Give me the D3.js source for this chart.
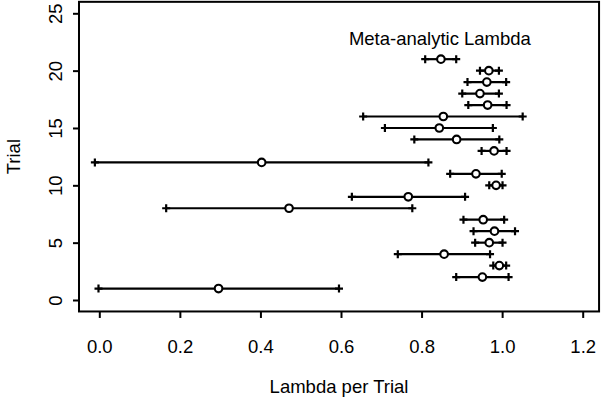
<!DOCTYPE html>
<html>
<head>
<meta charset="utf-8">
<script src="https://cdn.jsdelivr.net/npm/d3@7"></script>
<style>
  html, body { margin: 0; padding: 0; background: #fff; }
  svg { display: block; }
  text { font-family: "Liberation Sans", Arial, Helvetica, sans-serif; fill: #000; }
</style>
</head>
<body>
<svg id="chart" width="602" height="401"></svg>
<script>
// Data
const trials = [1, 2, 3, 4, 5, 6, 7, 8, 9, 10, 11, 12, 13, 14, 15, 16, 17, 18, 19, 20];
const lambda = [0.296, 0.951, 0.993, 0.856, 0.968, 0.981, 0.953, 0.471, 0.767, 0.985,
                0.935, 0.403, 0.980, 0.887, 0.844, 0.854, 0.964, 0.945, 0.962, 0.967];
const lower  = [-0.002, 0.886, 0.978, 0.741, 0.933, 0.929, 0.904, 0.166, 0.627, 0.968,
                0.871, -0.011, 0.949, 0.782, 0.709, 0.655, 0.916, 0.901, 0.914, 0.945];
const upper  = [0.595, 1.016, 1.010, 0.970, 1.001, 1.032, 1.005, 0.777, 0.908, 1.001,
                0.999, 0.817, 1.011, 0.993, 0.977, 1.051, 1.011, 0.992, 1.010, 0.992];
const metaRow = 21;
const metaLambda = 0.848, metaLower = 0.809, metaUpper = 0.886;
const metaLabel = "Meta-analytic Lambda";
const metaLabelRow = 23;
const xTicks = [0, 0.2, 0.4, 0.6, 0.8, 1.0, 1.2];
const yTicks = [0, 5, 10, 15, 20, 25];
const xTitle = "Lambda per Trial";
const yTitle = "Trial";

const svg = d3.select("#chart");
const x = d3.scaleLinear().domain([0, 1.2]).range([99.3, 582.7]);
const y = d3.scaleLinear().domain([0, 25]).range([300, 13.3]);
const xlim = [-0.0504, 1.2406], ylim = [-1, 26];
const bx0 = x(xlim[0]), bx1 = x(xlim[1]), by0 = y(ylim[1]), by1 = y(ylim[0]);

const fs = 18.5;
const rows = trials.map((t, i) => ({t, v: lambda[i], lo: lower[i], hi: upper[i]}));
rows.push({t: metaRow, v: metaLambda, lo: metaLower, hi: metaUpper});

const g = svg.append("g");
// error bars
g.selectAll("line.bar").data(rows).join("line")
  .attr("x1", d => x(d.lo)).attr("x2", d => x(d.hi))
  .attr("y1", d => y(d.t)).attr("y2", d => y(d.t))
  .attr("stroke", "#000").attr("stroke-width", 2.2);
// plus symbols at ends
const ends = [];
rows.forEach(d => { ends.push({t: d.t, v: d.lo}); ends.push({t: d.t, v: d.hi}); });
const ps = 4;
g.selectAll("path.plus").data(ends).join("path")
  .attr("d", d => `M${x(d.v) - ps},${y(d.t)}H${x(d.v) + ps}M${x(d.v)},${y(d.t) - ps}V${y(d.t) + ps}`)
  .attr("stroke", "#000").attr("stroke-width", 2.2).attr("fill", "none");
// points
g.selectAll("circle").data(rows).join("circle")
  .attr("cx", d => x(d.v)).attr("cy", d => y(d.t)).attr("r", 3.8)
  .attr("fill", "#fff").attr("stroke", "#000").attr("stroke-width", 2.1);

// meta label
svg.append("text").attr("x", x(metaLambda) - 1).attr("y", y(metaLabelRow) + 8.8)
  .attr("text-anchor", "middle").attr("font-size", fs).text(metaLabel);

// box
svg.append("rect").attr("x", bx0).attr("y", by0).attr("width", bx1 - bx0).attr("height", by1 - by0)
  .attr("fill", "none").attr("stroke", "#000").attr("stroke-width", 2);

// x axis
const xa = svg.append("g").attr("transform", `translate(0,${by1})`)
  .call(d3.axisBottom(x).tickValues(xTicks).tickFormat(d3.format(".1f")).tickSize(6.5).tickPadding(0));
xa.select(".domain").remove();
xa.selectAll(".tick line").attr("stroke", "#000").attr("stroke-width", 2);
xa.selectAll(".tick text").attr("font-size", fs).attr("font-family", "Liberation Sans, Arial, sans-serif")
  .attr("y", 353.5 - by1).attr("dy", null);

// y axis
const ya = svg.append("g").attr("transform", `translate(${bx0},0)`)
  .call(d3.axisLeft(y).tickValues(yTicks).tickSize(6).tickPadding(0));
ya.select(".domain").remove();
ya.selectAll(".tick line").attr("stroke", "#000").attr("stroke-width", 2);
ya.selectAll(".tick text").attr("font-size", fs).attr("font-family", "Liberation Sans, Arial, sans-serif")
  .attr("x", null).attr("y", null).attr("dy", null)
  .attr("text-anchor", "middle")
  .attr("transform", `translate(${61.7 - bx0},0) rotate(-90)`);

// titles
svg.append("text").attr("x", (bx0 + bx1) / 2).attr("y", 392.5)
  .attr("text-anchor", "middle").attr("font-size", fs).text(xTitle);
svg.append("text").attr("transform", `translate(20,${(by0 + by1) / 2}) rotate(-90)`)
  .attr("text-anchor", "middle").attr("font-size", fs).text(yTitle);
</script>
</body>
</html>
